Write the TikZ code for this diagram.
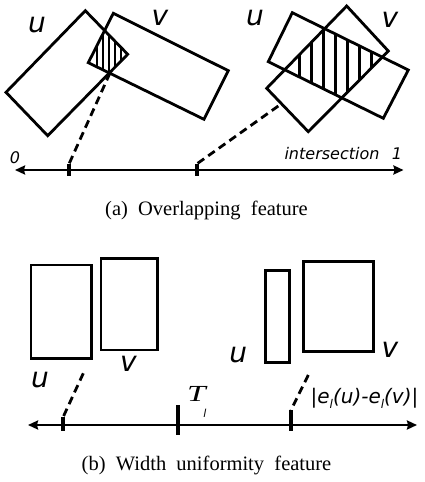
\documentclass[tikz,border=0pt]{standalone}
\usepackage{fontspec}
\usepackage{graphicx}
\setmainfont{Liberation Serif}
\setsansfont{DejaVu Sans}
\usetikzlibrary{arrows.meta}
\begin{document}
\begin{tikzpicture}[x=1pt,y=-1pt,
  box/.style={line width=2.8pt,line join=miter},
  hatch/.style={line width=2.4pt},
  axis/.style={line width=2.3pt,{Stealth[length=10pt,width=9pt,inset=1pt]}-{Stealth[length=10pt,width=9pt,inset=1pt]}},
  tick/.style={line width=4pt},
  dashline/.style={line width=2.8pt,dash pattern=on 8pt off 5pt},
  biglab/.style={font=\fontsize{28}{30}\selectfont\sffamily\itshape,inner sep=0pt},
  smalllab/.style={font=\fontsize{16}{18}\selectfont\sffamily\itshape,inner sep=0pt},
  caplab/.style={font=\fontsize{20.5}{22}\selectfont\rmfamily,inner sep=0pt}]
\useasboundingbox (0,0) rectangle (425,482);

% ---------- panel (a), left pair ----------
\coordinate (ua) at (85.3,10.7);
\coordinate (ub) at (127.7,54.3);
\coordinate (uc) at (47.7,135.7);
\coordinate (ud) at (6,92.3);
\coordinate (va) at (113.3,13.3);
\coordinate (vb) at (228.3,70.7);
\coordinate (vc) at (204,119.3);
\coordinate (vd) at (88.3,62.7);
\begin{scope}
  \clip (ua)--(ub)--(uc)--(ud)--cycle;
  \clip (va)--(vb)--(vc)--(vd)--cycle;
  \foreach \x in {97,103,109,115,121,127} \draw[hatch] (\x,0)--(\x,150);
\end{scope}
\draw[box] (ua)--(ub)--(uc)--(ud)--cycle;
\draw[box] (va)--(vb)--(vc)--(vd)--cycle;
\node[biglab] (lu1) at (37,25) {u};
\node[biglab] (lv1) at (160,18) {v};

% ---------- panel (a), right pair ----------
\coordinate (pa) at (292.3,12.7);
\coordinate (pb) at (408.3,70);
\coordinate (pc) at (383.3,118.3);
\coordinate (pd) at (268.3,61.7);
\coordinate (qa) at (346.7,6);
\coordinate (qb) at (388.3,51);
\coordinate (qc) at (308.3,131.7);
\coordinate (qd) at (266.7,88.3);
\begin{scope}
  \clip (pa)--(pb)--(pc)--(pd)--cycle;
  \clip (qa)--(qb)--(qc)--(qd)--cycle;
  \foreach \x in {299,311,323,335,347,359,371} \draw[hatch,line width=3pt] (\x,0)--(\x,150);
\end{scope}
\draw[box] (pa)--(pb)--(pc)--(pd)--cycle;
\draw[box] (qa)--(qb)--(qc)--(qd)--cycle;
\node[biglab] (lu2) at (255,18) {u};
\node[biglab] (lv2) at (390,20) {v};

% ---------- axis (a) ----------
\coordinate (a0) at (15,170);
\coordinate (a1) at (403.5,170);
\draw[axis] (a0)--(a1);
\coordinate (t1t) at (69,164); \coordinate (t1b) at (69,176);
\coordinate (t2t) at (196.7,164); \coordinate (t2b) at (196.7,176);
\draw[tick] (t1t)--(t1b);
\draw[tick] (t2t)--(t2b);
\coordinate (d1s) at (110,73);
\coordinate (d2s) at (278.3,106);
\draw[dashline] (d1s)--(t1t);
\draw[dashline] (d2s)--(t2t);
\node[smalllab] (zero) at (15,158) {0};
\node[smalllab] (one) at (397,154) {1};
\node[smalllab] (inter) at (332,154) {intersection};
\node[caplab] (capa) at (206.5,210) {(a)\ \ Overlapping\ \ feature};

% ---------- panel (b) ----------
\draw[box] (31,265) rectangle (91.7,358.3);
\draw[box] (101,258.3) rectangle (157.7,350);
\draw[box] (265.7,270.7) rectangle (289.3,362.7);
\draw[box] (303.3,261.7) rectangle (373.3,351.7);
\node[biglab] (lu3) at (40,380) {u};
\node[biglab] (lv3) at (128.3,364) {v};
\node[biglab] (lu4) at (238.3,355) {u};
\node[biglab] (lv4) at (390,350) {v};

\coordinate (b0) at (28,425);
\coordinate (b1) at (417,425);
\draw[axis] (b0)--(b1);
\coordinate (s1t) at (63.3,416.7); \coordinate (s1b) at (63.3,430.7);
\coordinate (s2t) at (177.7,405); \coordinate (s2b) at (177.7,435);
\coordinate (s3t) at (291,410); \coordinate (s3b) at (291,430.7);
\draw[tick] (s1t)--(s1b);
\draw[tick] (s2t)--(s2b);
\draw[tick] (s3t)--(s3b);
\coordinate (e1s) at (83.3,373.3);
\coordinate (e2s) at (308.3,375);
\draw[dashline] (e1s)--(s1t);
\draw[dashline] (e2s)--(s3t);
\node[inner sep=0pt,anchor=base west,font=\fontsize{23}{25}\selectfont\rmfamily\itshape] (tl) at (187,401.5) {\scalebox{1.45}[1]{T}};
\node[inner sep=0pt,anchor=base,font=\fontsize{11}{13}\selectfont\sffamily\itshape] (tsub) at (205,417) {l};
\node[inner sep=0pt,font=\fontsize{20}{22}\selectfont\sffamily\itshape] (diff) at (364.5,398) {|e\raisebox{-5pt}{\fontsize{12}{14}\selectfont l}(u)-e\raisebox{-5pt}{\fontsize{12}{14}\selectfont l}(v)|};
\node[caplab] (capb) at (206.5,465) {(b)\ \ Width\ \ uniformity\ \ feature};
\end{tikzpicture}
\end{document}
